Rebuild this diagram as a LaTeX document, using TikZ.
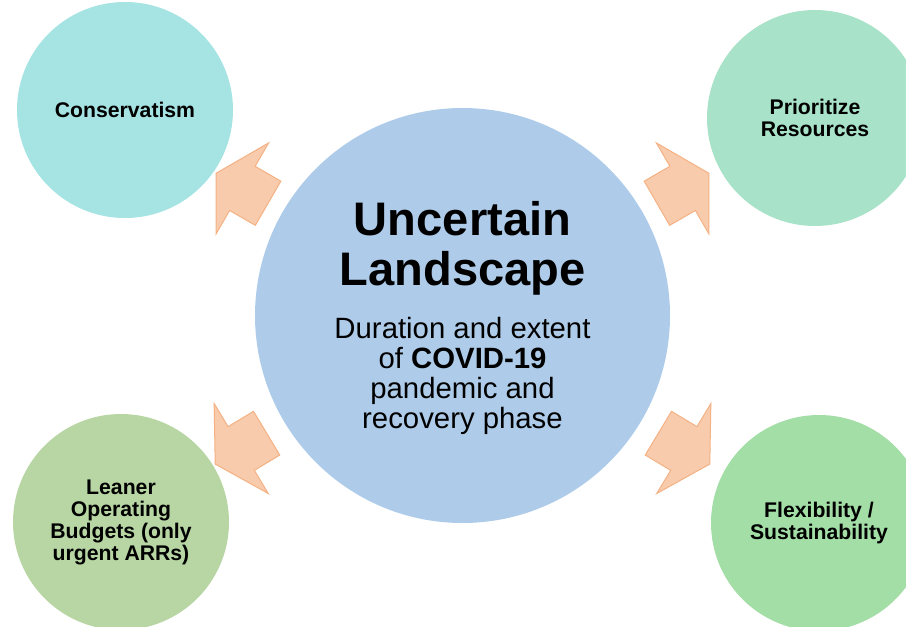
\documentclass[tikz,border=0pt]{standalone}
\usepackage{fontspec}
\setmainfont{Liberation Sans}
\usepackage{tikz}
\usetikzlibrary{shapes.geometric}
\usetikzlibrary{arrows,shapes,calc}

\definecolor{centfill}{HTML}{AECCE9}
\definecolor{consfill}{HTML}{A6E3E3}
\definecolor{priofill}{HTML}{A8E2C8}
\definecolor{leanfill}{HTML}{B7D6A3}
\definecolor{flexfill}{HTML}{A3DEA6}
\definecolor{arrowfill}{HTML}{F8CBAD}
\definecolor{arrowline}{HTML}{F4B183}

\begin{document}
\begin{tikzpicture}[x=0.75pt, y=0.75pt,
                    every node/.style = {inner sep=0pt, align=center},
                    bubble/.style = {circle, minimum size=162pt,
                                     font=\fontsize{15.9}{16.5}\selectfont\bfseries},
                    blockarrow/.style = {single arrow, anchor=tail, fill=arrowfill,
                                         draw=arrowline, line width=0.75pt,
                                         inner xsep=0pt, inner ysep=18.75pt,
                                         minimum height=45pt,
                                         single arrow head extend=20.25pt,
                                         single arrow tip angle=120}]
    \useasboundingbox (0,0) rectangle (906,626);
    \node[circle, fill=centfill, minimum size=311.25pt] (cen) at (462.5,310.5) {};
    \node[font=\fontsize{35.3}{37.5}\selectfont\bfseries] (title) at (462.5,377.5)
        {Uncertain\\Landscape};
    \node[font=\fontsize{22}{22.5}\selectfont] (sub) at (462.5,250.2)
        {Duration and extent\\of \textbf{COVID-19}\\pandemic and\\recovery phase};
    \node[bubble, fill=consfill] (cons) at (125,516) {Conservatism};
    \node[bubble, fill=priofill] (prio) at (815,508) {Prioritize\\Resources};
    \node[bubble, fill=leanfill] (lean) at (121,104) {Leaner\\Operating\\Budgets (only\\urgent ARRs)};
    \node[bubble, fill=flexfill] (flex) at (819,103) {Flexibility /\\Sustainability};
    \foreach \a/\d in {30/224,150/224,211/228,329/228}
        \node[blockarrow, rotate=\a] (arr\a) at ($(cen)+(\a:\d)$) {};
\end{tikzpicture}
\end{document}
